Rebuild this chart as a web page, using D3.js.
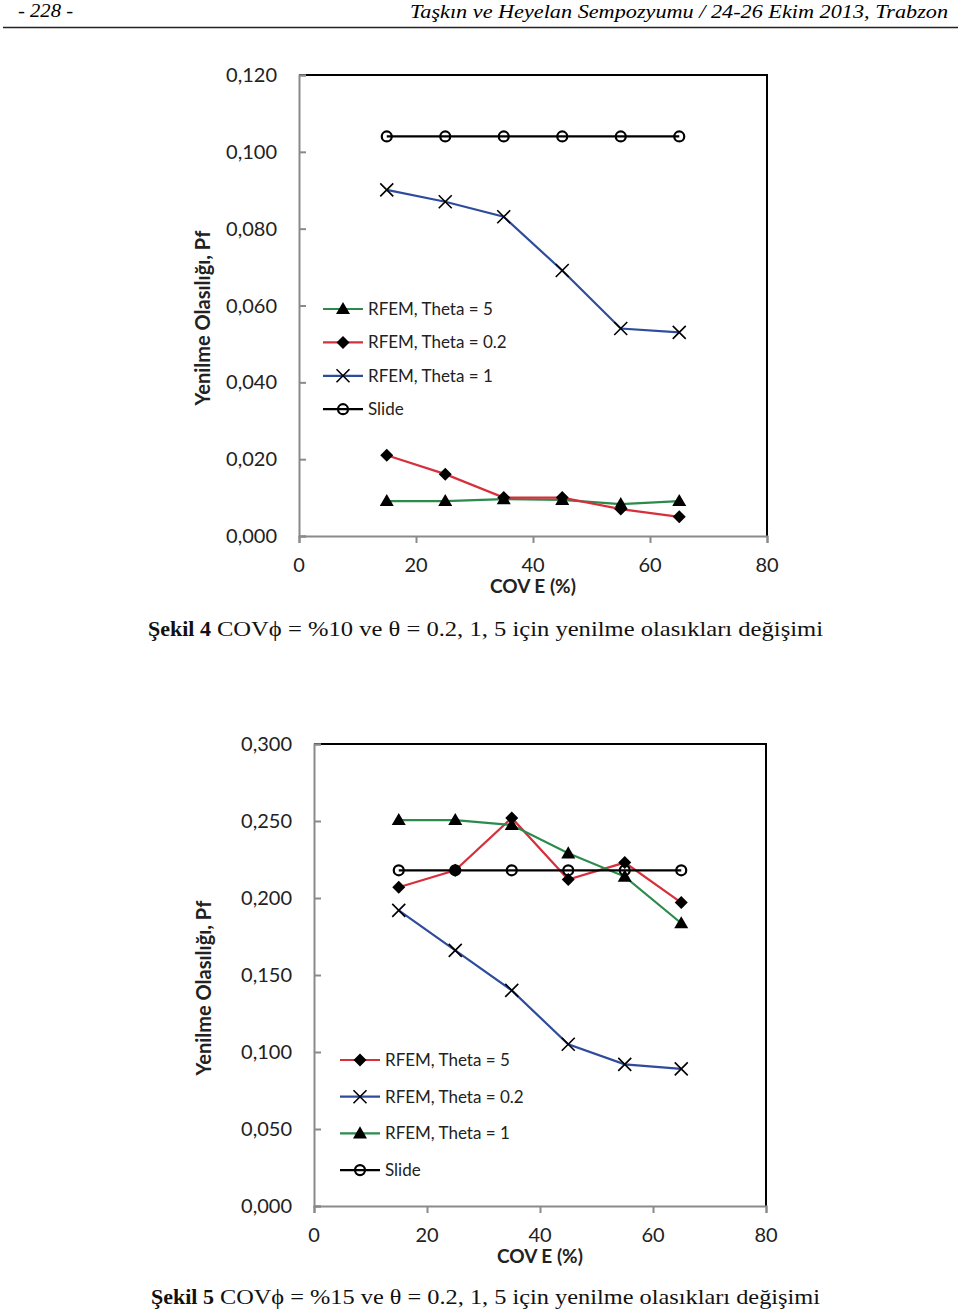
<!DOCTYPE html>
<html><head><meta charset="utf-8">
<script src="https://cdn.jsdelivr.net/npm/d3@7"></script>
<style>
html,body{margin:0;padding:0;background:#fff;}
svg{display:block;}
</style>
</head><body>
<svg id="c" width="960" height="1309"></svg>
<script>
// ---- data ----
const covE = [15, 25, 35, 45, 55, 65];
const xTicks = [0, 20, 40, 60, 80];

// Şekil 4 (COVϕ = %10)
const fig4Theta5  = [0.0091, 0.0091, 0.0096, 0.0094, 0.0083, 0.0091];
const fig4Theta02 = [0.0210, 0.0161, 0.0100, 0.0100, 0.0070, 0.0050];
const fig4Theta1  = [0.0901, 0.0870, 0.0831, 0.0691, 0.0540, 0.0530];
const fig4Slide   = [0.104, 0.104, 0.104, 0.104, 0.104, 0.104];
const fig4YTicks  = [0, 0.02, 0.04, 0.06, 0.08, 0.10, 0.12];
const fig4Labels  = ["RFEM, Theta = 5", "RFEM, Theta = 0.2", "RFEM, Theta = 1", "Slide"];

// Şekil 5 (COVϕ = %15)
const fig5Theta5  = [0.207, 0.218, 0.252, 0.212, 0.223, 0.197];
const fig5Theta02 = [0.192, 0.166, 0.140, 0.105, 0.092, 0.089];
const fig5Theta1  = [0.2506, 0.2506, 0.2474, 0.229, 0.2139, 0.1836];
const fig5Slide   = [0.218, 0.218, 0.218, 0.218, 0.218, 0.218];
const fig5YTicks  = [0, 0.05, 0.10, 0.15, 0.20, 0.25, 0.30];
const fig5Labels  = ["RFEM, Theta = 5", "RFEM, Theta = 0.2", "RFEM, Theta = 1", "Slide"];

const headerLeft = "- 228 -";
const headerRight = "Taşkın ve Heyelan Sempozyumu / 24-26 Ekim 2013, Trabzon";
const yTitle = "Yenilme Olasılığı, Pf";
const xTitle = "COV E (%)";
const cap4Bold = "Şekil 4", cap4Rest = "COVϕ = %10 ve θ  = 0.2, 1, 5 için yenilme olasıkları değişimi";
const cap5Bold = "Şekil 5", cap5Rest = "COVϕ = %15 ve θ = 0.2, 1, 5 için yenilme olasıkları değişimi";

const GREEN = "#2b8a4c", RED = "#d5303b", BLUE = "#2f4c9c";
const svg = d3.select("#c");
const FONT = "Lato, 'Open Sans', sans-serif";
const SERIF = "'Liberation Serif', 'DejaVu Serif', serif";
const loc = d3.formatLocale({decimal: ",", thousands: ".", grouping: [3], currency: ["", ""]});
const yFmt = loc.format(".3f");

// header
svg.append("text").attr("x", 18).attr("y", 17).attr("font-family", SERIF).attr("font-style", "italic")
  .attr("font-size", 19).attr("textLength", 55).attr("lengthAdjust", "spacingAndGlyphs").text(headerLeft);
svg.append("text").attr("x", 410).attr("y", 18).attr("font-family", SERIF).attr("font-style", "italic")
  .attr("font-size", 19).attr("textLength", 538).attr("lengthAdjust", "spacingAndGlyphs").text(headerRight);
svg.append("line").attr("x1", 3).attr("x2", 958).attr("y1", 27.5).attr("y2", 27.5)
  .attr("stroke", "#222").attr("stroke-width", 1.5);

function marker(g, type, x, y) {
  if (type === "tri") {
    g.append("path").attr("d", d3.symbol(d3.symbolTriangle, 85)()).attr("transform", `translate(${x},${y + 1})`).attr("fill", "#000");
  } else if (type === "dia") {
    g.append("path").attr("d", "M0,-6.5L6.5,0L0,6.5L-6.5,0Z").attr("transform", `translate(${x},${y})`).attr("fill", "#000");
  } else if (type === "x") {
    g.append("path").attr("d", "M-6.5,-6.5L6.5,6.5M-6.5,6.5L6.5,-6.5").attr("transform", `translate(${x},${y})`)
      .attr("stroke", "#000").attr("stroke-width", 1.6).attr("fill", "none");
  } else if (type === "o") {
    g.append("circle").attr("cx", x).attr("cy", y).attr("r", 5).attr("fill", "none").attr("stroke", "#000").attr("stroke-width", 2.2);
  }
}

function chart(o) {
  const x = d3.scaleLinear().domain([0, 80]).range([o.left, o.right]);
  const y = d3.scaleLinear().domain([0, o.ymax]).range([o.bottom, o.top]);
  const g = svg.append("g");
  // frame top & right (black)
  g.append("path").attr("d", `M${o.left},${o.top}H${o.right}V${o.bottom}`).attr("fill", "none")
    .attr("stroke", "#000").attr("stroke-width", 2);
  // y axis (gray) with inside ticks
  const ya = d3.axisRight(y).tickValues(o.yTicks).tickSize(7).tickFormat("");
  g.append("g").attr("transform", `translate(${o.left},0)`).call(ya)
    .call(s => s.selectAll("path,line").attr("stroke", "#8a8a8a").attr("stroke-width", 2));
  g.selectAll(".ylab").data(o.yTicks).join("text").attr("class", "ylab")
    .attr("x", o.left - 22).attr("y", d => y(d)).attr("dy", "0.35em").attr("text-anchor", "end")
    .attr("font-family", FONT).attr("font-size", 20).attr("fill", "#222").text(d => yFmt(d));
  // x axis (gray) with outside ticks
  const xa = d3.axisBottom(x).tickValues(xTicks).tickSize(7).tickFormat("");
  g.append("g").attr("transform", `translate(0,${o.bottom})`).call(xa)
    .call(s => s.selectAll("path,line").attr("stroke", "#8a8a8a").attr("stroke-width", 2));
  g.selectAll(".xlab").data(xTicks).join("text").attr("class", "xlab")
    .attr("x", d => x(d)).attr("y", o.bottom + 29).attr("dy", "0.35em").attr("text-anchor", "middle")
    .attr("font-family", FONT).attr("font-size", 20).attr("fill", "#222").text(d => d);
  g.append("text").attr("x", (o.left + o.right) / 2).attr("y", o.bottom + 50).attr("dy", "0.35em")
    .attr("text-anchor", "middle").attr("font-family", FONT).attr("font-weight", "bold").attr("font-size", 19)
    .attr("fill", "#222").text(xTitle);
  g.append("text").attr("transform", `translate(${o.ytx},${o.yty}) rotate(-90)`).attr("dy", "0.35em")
    .attr("text-anchor", "middle").attr("font-family", FONT).attr("font-weight", "bold").attr("font-size", 20)
    .attr("fill", "#222").text(yTitle);
  // series
  const line = d3.line().x((d, i) => x(covE[i])).y(d => y(d));
  o.series.forEach(s => {
    g.append("path").datum(s.values).attr("d", line).attr("fill", "none").attr("stroke", s.color).attr("stroke-width", 2.2);
    s.values.forEach((v, i) => marker(g, s.marker, x(covE[i]), y(v)));
  });
  // legend
  o.legendOrder.forEach((idx, k) => {
    const s = o.series[idx];
    const ly = o.legY + k * o.legDy;
    g.append("line").attr("x1", o.legX).attr("x2", o.legX + 40).attr("y1", ly).attr("y2", ly)
      .attr("stroke", s.color).attr("stroke-width", 2.2);
    marker(g, s.marker, o.legX + 20, ly);
    g.append("text").attr("x", o.legX + 45).attr("y", ly).attr("dy", "0.35em").attr("font-family", FONT)
      .attr("font-size", 17).attr("fill", "#222").text(s.label);
  });
}

chart({left: 299, right: 767, top: 75, bottom: 536, ymax: 0.12, yTicks: fig4YTicks, ytx: 203, yty: 318,
  legX: 323, legY: 309, legDy: 33.4, legendOrder: [0, 1, 2, 3],
  series: [
    {values: fig4Theta5, color: GREEN, marker: "tri", label: fig4Labels[0]},
    {values: fig4Theta02, color: RED, marker: "dia", label: fig4Labels[1]},
    {values: fig4Theta1, color: BLUE, marker: "x", label: fig4Labels[2]},
    {values: fig4Slide, color: "#000", marker: "o", label: fig4Labels[3]}
  ]});

chart({left: 314, right: 766, top: 744, bottom: 1206, ymax: 0.30, yTicks: fig5YTicks, ytx: 204, yty: 988,
  legX: 340, legY: 1060, legDy: 36.7, legendOrder: [0, 1, 2, 3],
  series: [
    {values: fig5Theta5, color: RED, marker: "dia", label: fig5Labels[0]},
    {values: fig5Theta02, color: BLUE, marker: "x", label: fig5Labels[1]},
    {values: fig5Theta1, color: GREEN, marker: "tri", label: fig5Labels[2]},
    {values: fig5Slide, color: "#000", marker: "o", label: fig5Labels[3]}
  ]});

function caption(bold, rest, x0, x1, yb) {
  const b = svg.append("text").attr("x", x0).attr("y", yb).attr("font-family", SERIF).attr("font-weight", "bold")
    .attr("font-size", 22).attr("fill", "#111").text(bold);
  const w = b.node().getComputedTextLength();
  const start = x0 + w + 6;
  svg.append("text").attr("x", start).attr("y", yb).attr("font-family", SERIF).attr("font-size", 22)
    .attr("fill", "#111").attr("textLength", x1 - start).attr("lengthAdjust", "spacingAndGlyphs").text(rest);
}
caption(cap4Bold, cap4Rest, 148, 823, 636);
caption(cap5Bold, cap5Rest, 151, 820, 1304);
</script>
</body></html>
